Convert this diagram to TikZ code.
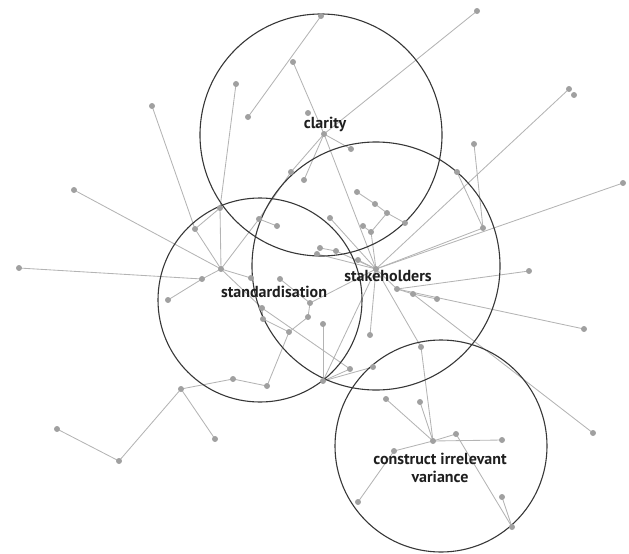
\documentclass[tikz,border=0pt]{standalone}
\usepackage{fontspec}
\setmainfont{PT Sans}
\definecolor{dotc}{RGB}{160,160,160}
\definecolor{edgec}{RGB}{180,180,180}
\definecolor{ringc}{RGB}{55,55,55}
\tikzset{
  pt/.style={circle,fill=dotc,inner sep=0pt,minimum size=6pt},
  edge/.style={draw=edgec,line width=0.85pt},
  ring/.style={draw=ringc,line width=1.1pt},
  lbl/.style={font=\bfseries\fontsize{16}{18}\selectfont,text=black!88,align=center,inner sep=0pt}
}
\begin{document}
\begin{tikzpicture}[x=1pt,y=-1pt]
\useasboundingbox (0,0) rectangle (629,554);
% positions
\coordinate (C) at (324,134);
\coordinate (c1) at (321,16);
\coordinate (c2) at (248,117);
\coordinate (c3) at (293,62);
\coordinate (c4) at (236,84);
\coordinate (c5) at (308,113);
\coordinate (c6) at (351,149);
\coordinate (c7) at (291,172);
\coordinate (c8) at (304,180);
\coordinate (c9) at (477,11);
\coordinate (S) at (376,269);
\coordinate (s1) at (569,89);
\coordinate (s1b) at (574,95);
\coordinate (s2) at (474,144);
\coordinate (s3) at (457,172);
\coordinate (s4) at (483,228);
\coordinate (s5) at (623,183);
\coordinate (s6) at (529,271);
\coordinate (s7) at (397,289);
\coordinate (s8) at (413,294);
\coordinate (s9) at (437,299);
\coordinate (s10) at (584,329);
\coordinate (s11) at (593,433);
\coordinate (s12) at (421,347);
\coordinate (s13) at (370,335);
\coordinate (s14) at (323,381);
\coordinate (s15) at (350,369);
\coordinate (s16) at (373,367);
\coordinate (s17) at (330,218);
\coordinate (s18) at (357,192);
\coordinate (s19) at (375,204);
\coordinate (s20) at (387,213);
\coordinate (s21) at (405,223);
\coordinate (s22) at (363,226);
\coordinate (s23) at (371,232);
\coordinate (s24) at (320,248);
\coordinate (s25) at (317,254);
\coordinate (s26) at (336,251);
\coordinate (s27) at (358,260);
\coordinate (s28) at (323,324);
\coordinate (T) at (221,269);
\coordinate (t1) at (152,106);
\coordinate (t2) at (195,229);
\coordinate (t3) at (220,208);
\coordinate (t4) at (259,219);
\coordinate (t5) at (277,226);
\coordinate (t6) at (74,190);
\coordinate (t7) at (19,268);
\coordinate (t8) at (202,279);
\coordinate (t9) at (168,300);
\coordinate (t10) at (251,278);
\coordinate (t11) at (280,279);
\coordinate (t12) at (310,303);
\coordinate (t13) at (308,317);
\coordinate (t14) at (289,332);
\coordinate (t15) at (262,308);
\coordinate (t16) at (263,319);
\coordinate (t17) at (267,386);
\coordinate (t18) at (233,379);
\coordinate (t19) at (181,389);
\coordinate (t20) at (215,439);
\coordinate (t21) at (119,461);
\coordinate (t22) at (57,429);
\coordinate (V) at (433,441);
\coordinate (v1) at (420,402);
\coordinate (v2) at (386,399);
\coordinate (v3) at (456,434);
\coordinate (v4) at (502,440);
\coordinate (v5) at (512,527);
\coordinate (v6) at (502,497);
\coordinate (v7) at (394,451);
\coordinate (v8) at (358,502);
% edges
\foreach \a/\b in {c1/c2,c3/C,c4/t3,C/c6,C/c7,C/c8,C/S,c9/C,
s1/S,s2/s4,s3/s4,s4/S,s5/S,S/s7,s7/s6,s7/s10,s7/s8,s8/s9,s8/s11,S/s12,s12/V,S/s13,S/s14,s14/s15,s14/s16,s14/s28,S/s17,s18/s19,s19/s20,s20/s21,s20/s23,s22/s23,s23/S,s24/s26,s26/S,s25/S,s27/S,
T/t2,t1/t2,t2/t3,t3/T,T/t4,t4/t5,t4/c7,t6/T,t7/t8,t8/t9,t8/T,T/t10,t11/t12,t12/S,t12/t13,t13/t14,t14/t17,t17/t18,t18/t19,t19/t20,t19/t21,t21/t22,T/t15,t15/s15,t15/t16,t16/t14,
V/v1,V/v2,V/v3,V/v4,v3/v5,v6/v5,V/v7,v7/v8}
  {\draw[edge] (\a) -- (\b);}
% rings
\draw[ring] (321,135) circle[radius=121];
\draw[ring] (376,266) circle[radius=124];
\draw[ring] (260,300) circle[radius=102];
\draw[ring] (441,446) circle[radius=106];
% dots
\foreach \n in {C,c1,c2,c3,c4,c5,c6,c7,c8,c9,S,s1,s1b,s2,s3,s4,s5,s6,s7,s8,s9,s10,s11,s12,s13,s14,s15,s16,s17,s18,s19,s20,s21,s22,s23,s24,s25,s26,s27,s28,T,t1,t2,t3,t4,t5,t6,t7,t8,t9,t10,t11,t12,t13,t14,t15,t16,t17,t18,t19,t20,t21,t22,V,v1,v2,v3,v4,v5,v6,v7,v8}
  {\node[pt] (d\n) at (\n) {};}
% labels
\node[lbl] (lc) at (325,124) {clarity};
\node[lbl] (ls) at (388,276) {stakeholders};
\node[lbl] (lt) at (274,292) {standardisation};
\node[lbl] (lv) at (440,468) {construct irrelevant\\variance};
\end{tikzpicture}
\end{document}
